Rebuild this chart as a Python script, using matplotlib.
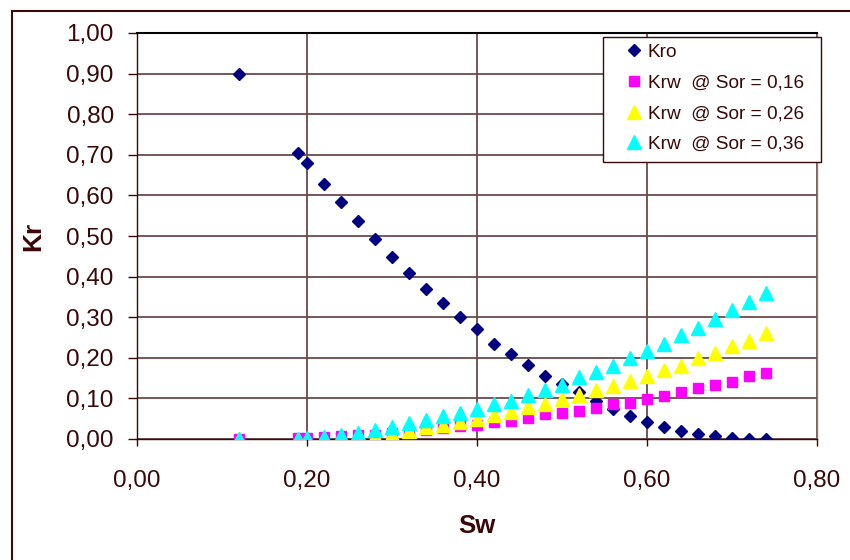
import matplotlib
matplotlib.use("Agg")
from matplotlib import pyplot as plt
from matplotlib.lines import Line2D
from matplotlib.patches import Rectangle

plt.rcParams['font.family'] = ['Liberation Sans', 'DejaVu Sans']

sw_o = [0.12, 0.19, 0.20, 0.22, 0.24, 0.26, 0.28, 0.30, 0.32, 0.34, 0.36, 0.38, 0.40,
        0.42, 0.44, 0.46, 0.48, 0.50, 0.52, 0.54, 0.56, 0.58, 0.60, 0.62, 0.64, 0.66,
        0.68, 0.70, 0.72, 0.74]
kro = [0.90, 0.704, 0.680, 0.628, 0.584, 0.537, 0.493, 0.448, 0.410, 0.370, 0.336, 0.300,
       0.270, 0.235, 0.209, 0.182, 0.156, 0.135, 0.115, 0.094, 0.073, 0.057, 0.043, 0.030,
       0.020, 0.013, 0.008, 0.003, 0.001, 0.000]

sw_w = sw_o
krw_16 = [0.000, 0.002, 0.003, 0.005, 0.007, 0.009, 0.011, 0.014, 0.017, 0.022, 0.027, 0.031,
          0.035, 0.042, 0.045, 0.051, 0.061, 0.063, 0.068, 0.077, 0.085, 0.089, 0.098, 0.107,
          0.115, 0.125, 0.133, 0.141, 0.155, 0.163]
krw_26 = [0.000, 0.001, 0.001, 0.002, 0.003, 0.005, 0.008, 0.012, 0.019, 0.029, 0.035, 0.043,
          0.049, 0.059, 0.067, 0.078, 0.086, 0.098, 0.108, 0.121, 0.131, 0.143, 0.155, 0.170,
          0.181, 0.199, 0.213, 0.229, 0.242, 0.260]
krw_36 = [0.000, 0.001, 0.002, 0.006, 0.010, 0.016, 0.023, 0.030, 0.039, 0.047, 0.056, 0.063,
          0.073, 0.086, 0.094, 0.108, 0.121, 0.133, 0.152, 0.165, 0.181, 0.200, 0.217, 0.234,
          0.256, 0.274, 0.295, 0.318, 0.338, 0.360]

labels = ["Kro", "Krw  @ Sor = 0,16", "Krw  @ Sor = 0,26", "Krw  @ Sor = 0,36"]
xticks = [0.0, 0.2, 0.4, 0.6, 0.8]
xticklabels = ["0,00", "0,20", "0,40", "0,60", "0,80"]
yticks = [0.0, 0.1, 0.2, 0.3, 0.4, 0.5, 0.6, 0.7, 0.8, 0.9, 1.0]
yticklabels = ["0,00", "0,10", "0,20", "0,30", "0,40", "0,50", "0,60", "0,70", "0,80", "0,90", "1,00"]

txt = "#3a0808"
grid_c = "#6b4a4a"

fig = plt.figure(figsize=(8.5, 5.6), dpi=100)
ax = fig.add_axes([136.7/850, 1-439/560, 680/850, 406/560])

ax.plot(sw_o, kro, "D", color="#000080", ms=6.5, ls="none", label=labels[0], zorder=3)
ax.plot(sw_w, krw_16, "s", color="#ff00ff", ms=7.5, ls="none", label=labels[1], zorder=3)
ax.plot(sw_w, krw_26, "^", color="#ffff00", ms=9.5, ls="none", label=labels[2], zorder=3)
ax.plot(sw_w, krw_36, "^", color="#00ffff", ms=9.5, ls="none", label=labels[3], zorder=3)

ax.set_xlim(0, 0.8)
ax.set_ylim(0, 1.0)
ax.set_xticks(xticks)
ax.set_xticklabels(xticklabels)
ax.set_yticks(yticks)
ax.set_yticklabels(yticklabels)
ax.tick_params(colors=txt, labelsize=17.5, width=1, direction="out")
ax.tick_params(axis="y", length=6.5, pad=10)
ax.tick_params(axis="x", length=5, pad=17)
ax.grid(True, color=grid_c, lw=1.3)
ax.set_axisbelow(True)
for s in ax.spines.values():
    s.set_color("#808080")
    s.set_linewidth(1)
ax.spines["left"].set_color(txt)
ax.spines["bottom"].set_color(txt)
ax.spines["top"].set_color("black")
ax.spines["top"].set_linewidth(1.5)

ax.set_xlabel("Sw", fontsize=18.5, fontweight="bold", color=txt, labelpad=16)
ax.set_ylabel("Kr", fontsize=19, fontweight="bold", color=txt, labelpad=15)

# legend box drawn separately so the right padding matches
fig.add_artist(Rectangle((603/850, 1-162/560), 218/850, 125.5/560, transform=fig.transFigure,
                         facecolor="white", edgecolor=txt, lw=1, zorder=4))
h, l = ax.get_legend_handles_labels()
leg = fig.legend(h, l, loc="upper left", bbox_to_anchor=(603/850, 1-39/560),
                 frameon=False, fontsize=13.7, labelspacing=0.7, handletextpad=-0.7,
                 handlelength=2.8, borderpad=0.25, borderaxespad=0)
leg.set_zorder(5)
for t in leg.get_texts():
    t.set_color(txt)

# outer chart border (only top and left edges fall inside the picture)
fig.add_artist(Line2D([12/850, 1.0], [1-11/560, 1-11/560], transform=fig.transFigure, color=txt, lw=1.5))
fig.add_artist(Line2D([12/850, 12/850], [0.0, 1-11/560], transform=fig.transFigure, color=txt, lw=1.5))

fig.savefig("out.png", dpi=100)
